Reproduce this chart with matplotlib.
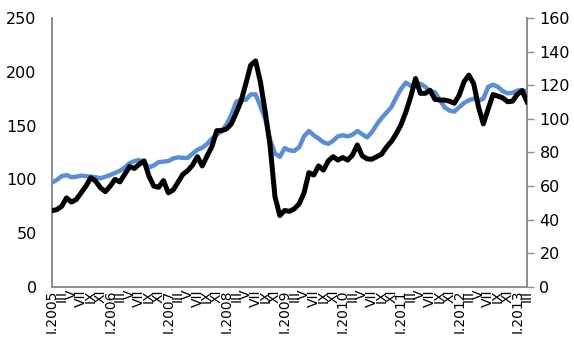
import matplotlib.pyplot as plt
import numpy as np

# monthly series, I.2005 .. III.2013
index_left = [
    97, 99.5, 103, 104, 102, 102.5, 103.5, 103, 102.5, 102,
    101, 102.5, 104, 106, 108, 111, 115, 117, 118, 116,
    111, 113, 116, 116.5, 117, 119.5, 120.5, 120, 120, 124,
    127.5, 129.5, 133, 138, 141.5, 145, 151, 160, 172, 174,
    174, 179, 179, 168, 156, 137, 124, 121, 129, 127,
    126.5, 130, 140, 145, 141, 138, 134.5, 133, 136, 140,
    141, 140, 141.5, 145, 142, 139, 144, 151, 157, 162,
    167, 176, 184, 190, 187, 187.5, 189, 186, 182, 181,
    174, 167, 164, 163, 167, 171, 173.5, 175, 173, 175,
    186, 188, 186, 182, 180, 180.5, 182.5, 183, 181.5,
]
index_right = [
    45.4, 46, 48, 53, 50.5, 52, 56, 60, 65, 63,
    59, 56.7, 60, 64, 62.5, 67, 71.6, 70.5, 73, 75,
    66, 60, 59.3, 63.3, 56, 57.7, 62.3, 67, 69.2, 72.5,
    77.5, 72, 78, 83.6, 93, 93, 94, 97, 103.5, 110.5,
    121, 132, 134.5, 122, 104, 84, 53.7, 42.5, 45.5, 45,
    46.5, 49.5, 56, 68, 66.6, 72, 69.5, 75, 77.5, 75.5,
    77, 75.5, 78.5, 84.5, 78, 76.2, 76, 77.5, 79, 83.2,
    86.5, 91, 96.5, 104, 113, 124, 115.2, 115.2, 117, 111.6,
    111.2, 111.2, 110.5, 109.3, 114, 122, 126, 121, 107, 97,
    106, 114.5, 113.5, 112.5, 110.2, 110.5, 114.5, 116.8, 110.2,
]

months = ["I", "II", "III", "IV", "V", "VI", "VII", "VIII", "IX", "X", "XI", "XII"]
labels = []
for i in range(len(index_left)):
    m = i % 12
    year = 2005 + i // 12
    labels.append("I." + str(year) if m == 0 else months[m])

x = np.arange(len(index_left))
AXIS_GRAY = "#8c8c8c"

fig = plt.figure(figsize=(5.74, 3.38), dpi=100)
ax = fig.add_axes([0.0906, 0.151, 0.8275, 0.7957])
ax2 = ax.twinx()

ax.plot(x, index_left, color="#5a8fd8", lw=3.2, solid_joinstyle="round", zorder=2)
ax2.plot(x, index_right, color="black", lw=3.6, solid_joinstyle="round", zorder=3)

ax.set_xlim(0, len(x) - 1)
ax.set_ylim(0, 250)
ax2.set_ylim(0, 160)
ax.set_yticks(np.arange(0, 251, 50))
ax2.set_yticks(np.arange(0, 161, 20))

ax.set_xticks(x[::2])
ax.set_xticklabels(labels[::2], rotation=90, fontsize=10, va="top", ha="center")
ax.tick_params(axis="x", length=0, pad=2)
ax.tick_params(axis="y", length=0, labelsize=11.5, pad=11)
ax2.tick_params(axis="y", length=5, width=1, color=AXIS_GRAY, labelsize=11.5, pad=4)

for a in (ax, ax2):
    a.spines["top"].set_visible(False)
    for s in ("left", "right", "bottom"):
        a.spines[s].set_color(AXIS_GRAY)
        a.spines[s].set_linewidth(1.2)

ax.set_zorder(ax2.get_zorder() - 1)
ax2.patch.set_visible(False)

fig.savefig("out.png", dpi=100)
